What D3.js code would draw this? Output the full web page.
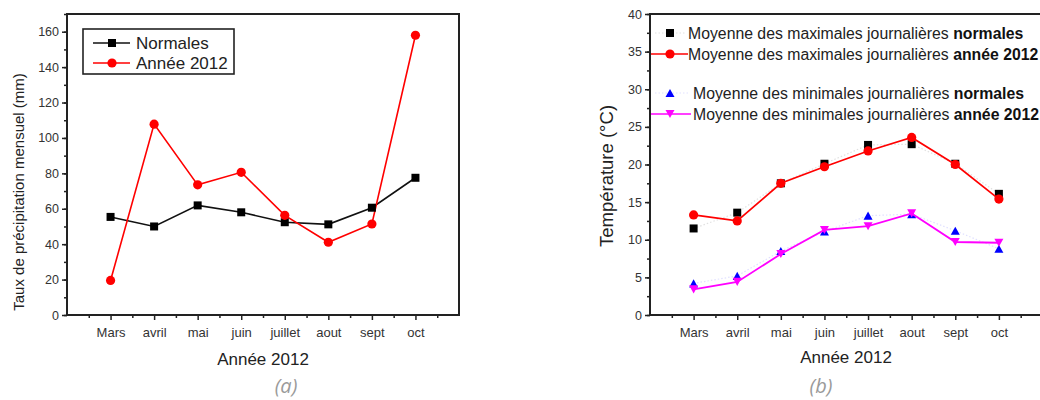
<!DOCTYPE html>
<html>
<head>
<meta charset="utf-8">
<script src="https://cdn.jsdelivr.net/npm/d3@7"></script>
<style>
  html, body { margin: 0; padding: 0; background: #fff; }
  svg { display: block; }
  text { font-family: "Liberation Sans", Arial, sans-serif; }
</style>
</head>
<body>
<svg id="chart" width="1040" height="400"></svg>
<script>
// ---------- DATA ----------
const months = ["Mars", "avril", "mai", "juin", "juillet", "aout", "sept", "oct"];

// Panel (a) – monthly precipitation (mm)
const precipNormales = [55.4, 50, 61.9, 58, 52.4, 51.2, 60.6, 77.5];
const precip2012     = [19.5, 107.8, 73.5, 80.6, 56.3, 41.1, 51.4, 158];
const precipTicks    = [0, 20, 40, 60, 80, 100, 120, 140, 160];

// Panel (b) – temperatures (°C)
const tmaxNormales = [11.5, 13.6, 17.5, 20.1, 22.6, 22.7, 20.1, 16.1];
const tmax2012     = [13.3, 12.5, 17.5, 19.7, 21.8, 23.6, 20.0, 15.4];
const tminNormales = [4.2, 5.2, 8.5, 11.1, 13.2, 13.4, 11.2, 8.8];
const tmin2012     = [3.4, 4.4, 8.1, 11.3, 11.8, 13.5, 9.7, 9.6];
const tempTicks    = [0, 5, 10, 15, 20, 25, 30, 35, 40];

const legendA = ["Normales", "Année 2012"];
const legendB = [
  ["Moyenne des maximales journalières ", "normales"],
  ["Moyenne des maximales journalières ", "année 2012"],
  ["Moyenne des minimales journalières ", "normales"],
  ["Moyenne des minimales journalières ", "année 2012"]
];

// ---------- DRAWING ----------
const svg = d3.select("#chart");
const idx = d3.range(months.length);
const AX = "#222";
const TXT = "#333";

function axes(g, x, y, ticks, minorStep, frameRight) {
  const [x0, x1] = x.range();
  const [yb, yt] = y.range();
  const ymax = y.domain()[1];
  // minor y ticks
  g.append("g").attr("transform", `translate(${x0},0)`)
    .call(d3.axisLeft(y).tickValues(d3.range(0, ymax + 0.001, minorStep)).tickSize(3).tickFormat(""))
    .call(s => s.select(".domain").remove())
    .call(s => s.selectAll("line").attr("stroke", AX).attr("stroke-width", 1.5));
  // major y ticks
  g.append("g").attr("transform", `translate(${x0},0)`)
    .call(d3.axisLeft(y).tickValues(ticks).tickSize(5).tickPadding(3))
    .call(s => s.select(".domain").remove())
    .call(s => s.selectAll("line").attr("stroke", AX).attr("stroke-width", 1.5))
    .call(s => s.selectAll("text").attr("fill", TXT).style("font-size", "12.5px")
      .style("font-family", '"Liberation Sans", Arial, sans-serif'));
  // minor x ticks (half-way between months)
  g.append("g").attr("transform", `translate(0,${yb})`)
    .call(d3.axisBottom(x).tickValues(d3.range(-0.5, months.length, 1)).tickSize(3).tickFormat(""))
    .call(s => s.select(".domain").remove())
    .call(s => s.selectAll("line").attr("stroke", AX).attr("stroke-width", 1.5));
  // major x ticks
  g.append("g").attr("transform", `translate(0,${yb})`)
    .call(d3.axisBottom(x).tickValues(idx).tickSize(5).tickPadding(8).tickFormat(i => months[i]))
    .call(s => s.select(".domain").remove())
    .call(s => s.selectAll("line").attr("stroke", AX).attr("stroke-width", 1.5))
    .call(s => s.selectAll("text").attr("fill", TXT).style("font-size", "13px")
      .style("font-family", '"Liberation Sans", Arial, sans-serif'));
  // frame
  g.append("rect").attr("x", x0).attr("y", yt).attr("width", frameRight - x0).attr("height", yb - yt)
    .attr("fill", "none").attr("stroke", AX).attr("stroke-width", 2);
}

function square(g, cx, cy, s, color) {
  g.append("rect").attr("x", cx - s / 2).attr("y", cy - s / 2).attr("width", s).attr("height", s).attr("fill", color);
}
function tri(g, cx, cy, s, color, down) {
  const h = s * 0.9;
  const pts = down
    ? [[cx - s / 2, cy - h / 2], [cx + s / 2, cy - h / 2], [cx, cy + h / 2]]
    : [[cx - s / 2, cy + h / 2], [cx + s / 2, cy + h / 2], [cx, cy - h / 2]];
  g.append("polygon").attr("points", pts.map(p => p.join(",")).join(" ")).attr("fill", color);
}

// ===== Panel (a) =====
{
  const g = svg.append("g");
  const x = d3.scaleLinear().domain([-1, months.length]).range([67, 459]);
  const y = d3.scaleLinear().domain([0, 170]).range([315, 14]);
  axes(g, x, y, precipTicks, 10, 459);

  const line = d3.line().x((d, i) => x(i)).y(d => y(d));
  g.append("path").datum(precipNormales).attr("d", line).attr("fill", "none").attr("stroke", "#111").attr("stroke-width", 1.6);
  g.append("path").datum(precip2012).attr("d", line).attr("fill", "none").attr("stroke", "#ff0000").attr("stroke-width", 1.6);
  precipNormales.forEach((v, i) => square(g, x(i), y(v), 8, "#000"));
  g.selectAll("circle.p").data(precip2012).join("circle").attr("cx", (d, i) => x(i)).attr("cy", d => y(d))
    .attr("r", 4.6).attr("fill", "#ff0000");

  // legend
  g.append("rect").attr("x", 83).attr("y", 29).attr("width", 151).attr("height", 45)
    .attr("fill", "#fff").attr("stroke", AX).attr("stroke-width", 1.6);
  const ly = [43, 63];
  g.append("line").attr("x1", 93).attr("x2", 130).attr("y1", ly[0]).attr("y2", ly[0]).attr("stroke", "#111").attr("stroke-width", 1.6);
  square(g, 112, ly[0], 8, "#000");
  g.append("line").attr("x1", 93).attr("x2", 130).attr("y1", ly[1]).attr("y2", ly[1]).attr("stroke", "#ff0000").attr("stroke-width", 1.6);
  g.append("circle").attr("cx", 112).attr("cy", ly[1]).attr("r", 4.6).attr("fill", "#ff0000");
  legendA.forEach((t, i) => g.append("text").attr("x", 136).attr("y", ly[i]).attr("dy", "0.36em")
    .attr("fill", "#222").style("font-size", "17px").text(t));

  // axis titles
  g.append("text").attr("transform", "translate(24,192) rotate(-90)").attr("text-anchor", "middle")
    .attr("fill", "#222").style("font-size", "15px").text("Taux de précipitation mensuel (mm)");
  g.append("text").attr("x", 263).attr("y", 365).attr("text-anchor", "middle")
    .attr("fill", "#222").style("font-size", "17px").text("Année 2012");
  g.append("text").attr("x", 286).attr("y", 393).attr("text-anchor", "middle")
    .attr("fill", "#9a9a9a").style("font-size", "20px").style("font-style", "italic")
    .style("font-family", '"Open Sans", sans-serif').text("(a)");
}

// ===== Panel (b) =====
{
  const g = svg.append("g");
  const x = d3.scaleLinear().domain([-1, months.length]).range([650, 1042.5]);
  const y = d3.scaleLinear().domain([0, 40]).range([315, 14]);
  axes(g, x, y, tempTicks, 2.5, 1042.5);

  const line = d3.line().x((d, i) => x(i)).y(d => y(d));
  // faint dotted connectors for the "normales" series
  g.append("path").datum(tmaxNormales).attr("d", line).attr("fill", "none").attr("stroke", "#000")
    .attr("stroke-opacity", 0.12).attr("stroke-width", 1.2).attr("stroke-dasharray", "1.5,2");
  g.append("path").datum(tminNormales).attr("d", line).attr("fill", "none").attr("stroke", "#0000ff")
    .attr("stroke-opacity", 0.12).attr("stroke-width", 1.2).attr("stroke-dasharray", "1.5,2");

  tmaxNormales.forEach((v, i) => square(g, x(i), y(v), 8, "#000"));
  g.append("path").datum(tmax2012).attr("d", line).attr("fill", "none").attr("stroke", "#ff0000").attr("stroke-width", 1.7);
  g.selectAll("circle.t").data(tmax2012).join("circle").attr("cx", (d, i) => x(i)).attr("cy", d => y(d))
    .attr("r", 4.6).attr("fill", "#ff0000");
  tminNormales.forEach((v, i) => tri(g, x(i), y(v), 9, "#0000ff", false));
  g.append("path").datum(tmin2012).attr("d", line).attr("fill", "none").attr("stroke", "#ff00ff").attr("stroke-width", 1.8);
  tmin2012.forEach((v, i) => tri(g, x(i), y(v), 9, "#ff00ff", true));

  // legend
  const ly = [33, 54, 93, 114];
  g.append("line").attr("x1", 655).attr("x2", 686).attr("y1", ly[0]).attr("y2", ly[0]).attr("stroke", "#000")
    .attr("stroke-opacity", 0.12).attr("stroke-dasharray", "1.5,2");
  square(g, 670, ly[0], 8, "#000");
  g.append("line").attr("x1", 651).attr("x2", 688).attr("y1", ly[1]).attr("y2", ly[1]).attr("stroke", "#ff0000").attr("stroke-width", 1.6);
  g.append("circle").attr("cx", 670).attr("cy", ly[1]).attr("r", 4.6).attr("fill", "#ff0000");
  g.append("line").attr("x1", 655).attr("x2", 690).attr("y1", ly[2]).attr("y2", ly[2]).attr("stroke", "#0000ff")
    .attr("stroke-opacity", 0.12).attr("stroke-dasharray", "1.5,2");
  tri(g, 670, ly[2], 9, "#0000ff", false);
  g.append("line").attr("x1", 651).attr("x2", 691).attr("y1", ly[3]).attr("y2", ly[3]).attr("stroke", "#ff00ff").attr("stroke-width", 1.6);
  tri(g, 670, ly[3], 9, "#ff00ff", true);
  const lx = [688, 688, 693, 693];
  legendB.forEach((t, i) => {
    const tx = g.append("text").attr("x", lx[i]).attr("y", ly[i]).attr("dy", "0.36em")
      .attr("fill", "#222").style("font-size", "15.8px");
    tx.append("tspan").text(t[0]);
    tx.append("tspan").attr("font-weight", "bold").attr("fill", "#111").text(t[1]);
  });

  // axis titles
  g.append("text").attr("transform", "translate(613,176) rotate(-90)").attr("text-anchor", "middle")
    .attr("fill", "#222").style("font-size", "18.5px").text("Température (°C)");
  g.append("text").attr("x", 846).attr("y", 363).attr("text-anchor", "middle")
    .attr("fill", "#222").style("font-size", "17px").text("Année 2012");
  g.append("text").attr("x", 821).attr("y", 393).attr("text-anchor", "middle")
    .attr("fill", "#9a9a9a").style("font-size", "20px").style("font-style", "italic")
    .style("font-family", '"Open Sans", sans-serif').text("(b)");
}
</script>
</body>
</html>
